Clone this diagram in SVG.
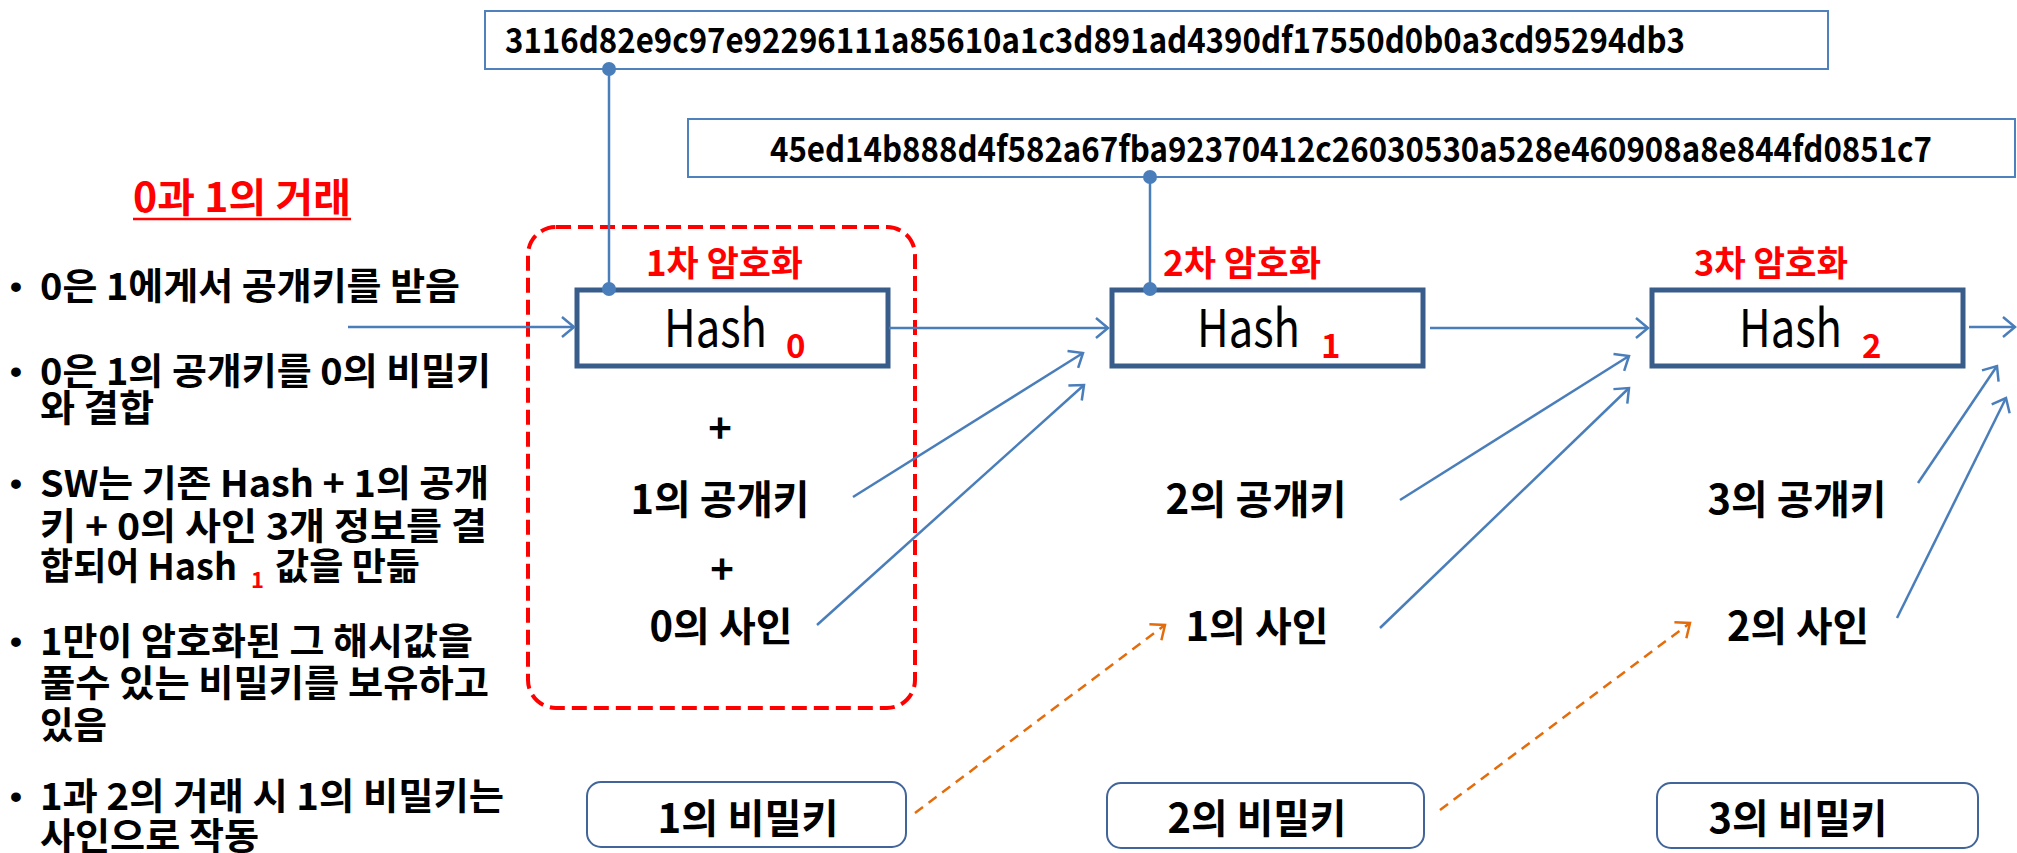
<svg xmlns="http://www.w3.org/2000/svg" width="2017" height="853" viewBox="0 0 2017 853">
<defs>
<style>
text{font-family:"Noto Sans CJK KR","Noto Sans",sans-serif}
.bul{font-size:37px;font-weight:700;fill:#000}
.dotc{font-family:"Liberation Sans",Arial,sans-serif;font-size:34px;font-weight:700;fill:#000}
.red{fill:#FF0000;font-weight:700}
.hex{font-size:35px;font-weight:700;fill:#000}
.hash{font-size:52px;font-weight:400;fill:#000}
.lbl{font-size:40px;font-weight:700;fill:#000;text-anchor:middle}
.hbox{fill:#fff;stroke:#385D8A;stroke-width:5}
.tbox{fill:#fff;stroke:#4F81BD;stroke-width:2}
.kbox{fill:#fff;stroke:#41659A;stroke-width:2}
.conn{fill:none;stroke:#4A7EBB;stroke-width:2.5}
.oconn{fill:none;stroke:#E46C0A;stroke-width:2.5;stroke-dasharray:10 7}
.dot{fill:#4A7EBB}
</style>
<marker id="ah" markerUnits="userSpaceOnUse" markerWidth="20" markerHeight="26" refX="14" refY="12" orient="auto">
<path d="M2,2 L14,12 L2,22" fill="none" stroke="#4A7EBB" stroke-width="2.5"/>
</marker>
<marker id="oh" markerUnits="userSpaceOnUse" markerWidth="20" markerHeight="26" refX="14" refY="12" orient="auto">
<path d="M2,2 L14,12 L2,22" fill="none" stroke="#E46C0A" stroke-width="2.5"/>
</marker>
</defs>
<rect width="2017" height="853" fill="#fff"/>

<g id="hex1">
<rect class="tbox" x="485" y="11" width="1343" height="58"/>
<text class="hex" x="505" y="53" textLength="1180" lengthAdjust="spacingAndGlyphs">3116d82e9c97e92296111a85610a1c3d891ad4390df17550d0b0a3cd95294db3</text>
</g>
<g id="hex2">
<rect class="tbox" x="688" y="119" width="1327" height="58"/>
<text class="hex" x="770" y="162" textLength="1162" lengthAdjust="spacingAndGlyphs">45ed14b888d4f582a67fba92370412c26030530a528e460908a8e844fd0851c7</text>
</g>

<g id="title">
<text class="red" x="133" y="212" font-size="40" textLength="218" lengthAdjust="spacingAndGlyphs">0과 1의 거래</text>
<line x1="133" y1="219" x2="351" y2="219" stroke="#FF0000" stroke-width="2.5"/>
</g>

<g id="bullets">
<text class="dotc" x="10" y="298">•</text>
<text class="bul" x="40" y="300" textLength="420" lengthAdjust="spacingAndGlyphs">0은 1에게서 공개키를 받음</text>
<text class="dotc" x="10" y="383">•</text>
<text class="bul" x="40" y="385" textLength="451" lengthAdjust="spacingAndGlyphs">0은 1의 공개키를 0의 비밀키</text>
<text class="bul" x="40" y="422" textLength="114" lengthAdjust="spacingAndGlyphs">와 결합</text>
<text class="dotc" x="10" y="495">•</text>
<text class="bul" x="40" y="497" textLength="449" lengthAdjust="spacingAndGlyphs">SW는 기존 Hash + 1의 공개</text>
<text class="bul" x="40" y="540" textLength="447" lengthAdjust="spacingAndGlyphs">키 + 0의 사인 3개 정보를 결</text>
<text class="bul" x="40" y="580" textLength="197" lengthAdjust="spacingAndGlyphs">합되어 Hash</text>
<text class="red" x="251" y="588" font-size="22">1</text>
<text class="bul" x="275" y="580" textLength="145" lengthAdjust="spacingAndGlyphs">값을 만듦</text>
<text class="dotc" x="10" y="653">•</text>
<text class="bul" x="40" y="655" textLength="433" lengthAdjust="spacingAndGlyphs">1만이 암호화된 그 해시값을</text>
<text class="bul" x="40" y="697" textLength="449" lengthAdjust="spacingAndGlyphs">풀수 있는 비밀키를 보유하고</text>
<text class="bul" x="40" y="739" textLength="67" lengthAdjust="spacingAndGlyphs">있음</text>
<text class="dotc" x="10" y="808">•</text>
<text class="bul" x="40" y="810" textLength="464" lengthAdjust="spacingAndGlyphs">1과 2의 거래 시 1의 비밀키는</text>
<text class="bul" x="40" y="850" textLength="219" lengthAdjust="spacingAndGlyphs">사인으로 작동</text>
</g>

<g id="stage1">
<rect x="528" y="227" width="387" height="481" rx="28" ry="28" fill="none" stroke="#FF0000" stroke-width="4" stroke-dasharray="15 7"/>
<text class="red" x="646" y="276" font-size="35" textLength="157" lengthAdjust="spacingAndGlyphs">1차 암호화</text>
</g>

<g id="hash0">
<rect class="hbox" x="577" y="290" width="311" height="76"/>
<text class="hash" x="664" y="347" textLength="103" lengthAdjust="spacingAndGlyphs">Hash</text>
<text class="red" x="786" y="358" font-size="33">0</text>
</g>
<g id="hash1">
<text class="red" x="1163" y="276" font-size="35" textLength="158" lengthAdjust="spacingAndGlyphs">2차 암호화</text>
<rect class="hbox" x="1112" y="290" width="311" height="76"/>
<text class="hash" x="1197" y="347" textLength="103" lengthAdjust="spacingAndGlyphs">Hash</text>
<text class="red" x="1321" y="358" font-size="33">1</text>
</g>
<g id="hash2">
<text class="red" x="1694" y="276" font-size="35" textLength="154" lengthAdjust="spacingAndGlyphs">3차 암호화</text>
<rect class="hbox" x="1652" y="290" width="311" height="76"/>
<text class="hash" x="1739" y="347" textLength="103" lengthAdjust="spacingAndGlyphs">Hash</text>
<text class="red" x="1862" y="358" font-size="33">2</text>
</g>

<g id="inputs1">
<text class="lbl" x="720" y="443">+</text>
<text class="lbl" x="720" y="514" textLength="179" lengthAdjust="spacingAndGlyphs">1의 공개키</text>
<text class="lbl" x="722" y="584">+</text>
<text class="lbl" x="721" y="641" textLength="143" lengthAdjust="spacingAndGlyphs">0의 사인</text>
</g>
<g id="inputs2">
<text class="lbl" x="1256" y="514" textLength="181" lengthAdjust="spacingAndGlyphs">2의 공개키</text>
<text class="lbl" x="1257" y="641" textLength="143" lengthAdjust="spacingAndGlyphs">1의 사인</text>
</g>
<g id="inputs3">
<text class="lbl" x="1797" y="514" textLength="179" lengthAdjust="spacingAndGlyphs">3의 공개키</text>
<text class="lbl" x="1798" y="641" textLength="142" lengthAdjust="spacingAndGlyphs">2의 사인</text>
</g>

<g id="key1">
<rect class="kbox" x="587" y="782" width="319" height="65" rx="14" ry="14"/>
<text class="lbl" x="748" y="833" textLength="181" lengthAdjust="spacingAndGlyphs">1의 비밀키</text>
</g>
<g id="key2">
<rect class="kbox" x="1107" y="783" width="317" height="65" rx="14" ry="14"/>
<text class="lbl" x="1257" y="833" textLength="179" lengthAdjust="spacingAndGlyphs">2의 비밀키</text>
</g>
<g id="key3">
<rect class="kbox" x="1657" y="783" width="321" height="65" rx="14" ry="14"/>
<text class="lbl" x="1798" y="833" textLength="179" lengthAdjust="spacingAndGlyphs">3의 비밀키</text>
</g>

<g id="connectors">
<line class="conn" x1="609" y1="69" x2="609" y2="289"/>
<circle class="dot" cx="609" cy="69" r="7"/>
<circle class="dot" cx="609" cy="289" r="7"/>
<line class="conn" x1="1150" y1="177" x2="1150" y2="289"/>
<circle class="dot" cx="1150" cy="177" r="7"/>
<circle class="dot" cx="1150" cy="289" r="7"/>
<line class="conn" x1="348" y1="327" x2="574" y2="327" marker-end="url(#ah)"/>
<line class="conn" x1="889" y1="328" x2="1108" y2="328" marker-end="url(#ah)"/>
<line class="conn" x1="1430" y1="328" x2="1648" y2="328" marker-end="url(#ah)"/>
<line class="conn" x1="1969" y1="327" x2="2015" y2="327" marker-end="url(#ah)"/>
<line class="conn" x1="853" y1="497" x2="1083" y2="353" marker-end="url(#ah)"/>
<line class="conn" x1="817" y1="625" x2="1084" y2="385" marker-end="url(#ah)"/>
<line class="conn" x1="1400" y1="500" x2="1629" y2="356" marker-end="url(#ah)"/>
<line class="conn" x1="1380" y1="628" x2="1629" y2="388" marker-end="url(#ah)"/>
<line class="conn" x1="1918" y1="483" x2="1997" y2="366" marker-end="url(#ah)"/>
<line class="conn" x1="1897" y1="618" x2="2006" y2="398" marker-end="url(#ah)"/>
<line class="oconn" x1="915" y1="813" x2="1165" y2="625" marker-end="url(#oh)"/>
<line class="oconn" x1="1440" y1="810" x2="1690" y2="623" marker-end="url(#oh)"/>
</g>
</svg>
